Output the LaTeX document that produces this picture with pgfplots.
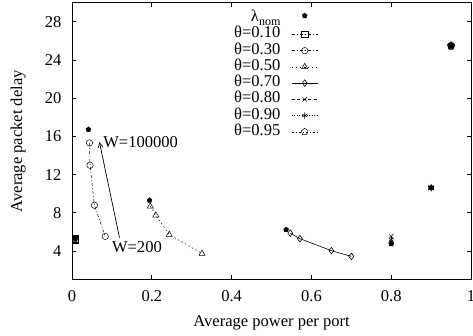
\documentclass[border=0pt]{standalone}
\usepackage{fontspec}
\setmainfont{Liberation Serif}
\usepackage{pgfplots}
\pgfplotsset{compat=1.18}
\usetikzlibrary{arrows.meta}
\newcommand{\fs}{\fontsize{16.5}{19}\selectfont}
\pgfplotsset{
  linelegend/.style={legend image code/.code={\draw[mark repeat=2,mark phase=2,##1] plot coordinates {(0pt,0pt) (13pt,0pt) (26pt,0pt)};}},
  marklegend/.style={legend image code/.code={\draw[##1] plot coordinates {(13pt,2.5pt)};}},
}
\begin{document}
\fs
\begin{tikzpicture}
\begin{axis}[name=ax,
  scale only axis, width=398.3pt, height=276.6pt,
  xmin=0, xmax=1, ymin=1, ymax=30,
  xtick={0,0.2,0.4,0.6,0.8,1}, xticklabels={0,0.2,0.4,0.6,0.8,1},
  ytick={4,8,12,16,20,24,28},
  tick align=inside, tick pos=both, major tick length=4.3pt,
  axis line style={line width=1pt},
  every tick/.style={line width=0.8pt, black},
  /pgf/number format/assume math mode=true,
  tick label style={font=\fs},
  label style={font=\fs},
  xticklabel style={yshift=-5pt},
  yticklabel style={xshift=-5pt},
  xlabel={Average power per port},
  xlabel style={at={(axis description cs:0.5,-0.155)}, anchor=center},
  ylabel={Average packet delay},
  ylabel style={at={(axis description cs:-0.135,0.5)}, anchor=center},
  legend plot pos=right, legend cell align=right,
  legend style={at={(axis description cs:0.617,0.9736)}, anchor=north east,
    draw=none, fill=none, inner sep=0pt, row sep=0.2pt, column sep=11pt, font=\fs,
    nodes={inner sep=0pt, text height=11.5pt, text depth=4.5pt}},
  linelegend,
]
\addplot[only marks, mark=pentagon*, mark size=2.6pt, black, marklegend]
  coordinates {(0.008,5.22) (0.041,16.72) (0.194,9.31) (0.5365,6.24) (0.8,4.77) (0.9,10.64) (0.95,25.49)};
\addlegendentry{λ\raisebox{-0.25em}{\fontsize{12}{12}\selectfont nom}}
\addplot[black, line width=0.5pt, dash pattern=on 3pt off 2pt on 1pt off 2pt, mark=square, mark size=3.2pt, mark options={solid}]
  coordinates {(0.008,5.3) (0.008,5.22) (0.008,5.15) (0.008,5.1)};
\addlegendentry{θ=0.10}
\addplot[black, line width=0.5pt, dash pattern=on 3pt off 2pt on 1pt off 2pt, mark=o, mark size=3.2pt, mark options={solid}]
  coordinates {(0.0435,15.32) (0.045,12.98) (0.056,8.79) (0.083,5.54)};
\addlegendentry{θ=0.30}
\addplot[black, line width=0.5pt, dash pattern=on 1.5pt off 2.5pt, mark=triangle, mark size=3.5pt, mark options={solid}]
  coordinates {(0.196,8.68) (0.21,7.74) (0.2435,5.72) (0.3256,3.73)};
\addlegendentry{θ=0.50}
\addplot[black, line width=0.6pt, solid, mark=diamond, mark size=3.3pt]
  coordinates {(0.547,5.88) (0.571,5.30) (0.650,4.04) (0.700,3.44)};
\addlegendentry{θ=0.70}
\addplot[black, line width=0.5pt, dash pattern=on 3pt off 2.5pt, mark=x, mark size=3.2pt, mark options={solid}]
  coordinates {(0.8,5.54) (0.8,5.15) (0.8,4.95) (0.8,4.75)};
\addlegendentry{θ=0.80}
\addplot[black, line width=0.5pt, dash pattern=on 1pt off 1.5pt, mark=asterisk, mark size=3.2pt, mark options={solid}]
  coordinates {(0.9,10.7) (0.9,10.64) (0.9,10.6) (0.9,10.55)};
\addlegendentry{θ=0.90}
\addplot[black, line width=0.5pt, dash pattern=on 2pt off 2pt on 1pt off 2pt, mark=pentagon, mark size=3.5pt, mark options={solid}]
  coordinates {(0.95,25.55) (0.95,25.49) (0.95,25.45) (0.95,25.4)};
\addlegendentry{θ=0.95}
\draw[line width=0.7pt, -{Straight Barb[length=5pt,width=5pt]}] (axis cs:0.1188,5.40) -- (axis cs:0.0685,15.42);
\node[anchor=west, inner sep=0pt, font=\fs] at (axis cs:0.0778,15.42) {W=100000};
\node[anchor=west, inner sep=0pt, font=\fs] at (axis cs:0.0997,4.42) {W=200};
\end{axis}
\pgfresetboundingbox
\path ([xshift=-72pt,yshift=-55.7pt]ax.south west) rectangle ([xshift=2pt,yshift=2.7pt]ax.north east);
\end{tikzpicture}
\end{document}
